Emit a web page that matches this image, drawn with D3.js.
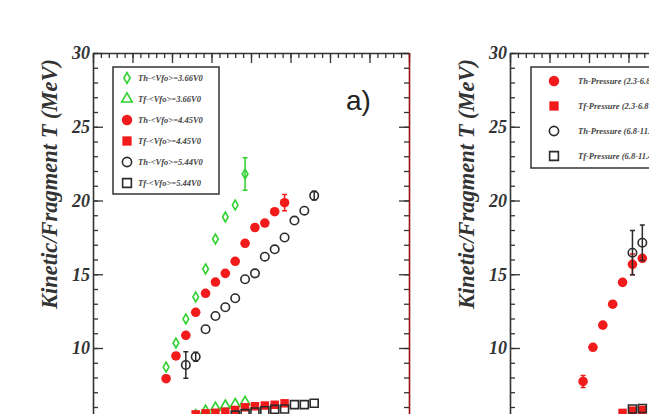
<!DOCTYPE html>
<html>
<head>
<meta charset="utf-8">
<script src="https://cdn.jsdelivr.net/npm/d3@7"></script>
<style>
    body { margin: 0; background: #fff; }
    svg { display: block; }
</style>
</head>
<body>
<div id="chart"></div>
<script>
// points are [x, T (MeV), error]
// panel a) : <Vfo> scans
const thV366 = [[1.85, 8.71], [2.1, 10.34], [2.35, 11.97], [2.6, 13.46], [2.85, 15.36], [3.1, 17.39], [3.35, 18.88], [3.6, 19.69], [3.85, 21.8, 1.1]];
const tfV366 = [[2.6, 5.45], [2.85, 5.75], [3.1, 5.95], [3.35, 6.1], [3.6, 6.2], [3.85, 6.35]];
const thV445 = [[1.85, 7.92], [2.1, 9.46], [2.35, 10.86], [2.6, 12.42], [2.85, 13.71], [3.1, 14.47], [3.35, 15.06], [3.6, 15.88], [3.85, 17.1], [4.1, 18.17], [4.35, 18.47], [4.6, 19.24], [4.85, 19.85, 0.55]];
const tfV445 = [[2.6, 5.5], [2.85, 5.57], [3.1, 5.61], [3.35, 5.68], [3.6, 5.8], [3.85, 5.98], [4.1, 6.05], [4.35, 6.1], [4.6, 6.15], [4.85, 6.25]];
const thV544 = [[2.35, 8.85, 0.9], [2.6, 9.41, 0.3], [2.85, 11.27], [3.1, 12.17], [3.35, 12.76], [3.6, 13.37], [3.85, 14.66], [4.1, 15.06], [4.35, 16.19], [4.6, 16.69], [4.85, 17.49], [5.1, 18.64], [5.35, 19.31], [5.6, 20.33, 0.3]];
const tfV544 = [[3.6, 5.45], [3.85, 5.55], [4.1, 5.66], [4.35, 5.75], [4.6, 5.84], [4.85, 5.86], [5.1, 6.16], [5.35, 6.16], [5.6, 6.25]];

// panel b) : pressure ranges
const thP1 = [[1.85, 7.73, 0.4], [2.1, 10.05], [2.35, 11.55], [2.6, 12.97], [2.85, 14.45], [3.1, 15.67, 0.7], [3.35, 16.08]];
const tfP1 = [[2.85, 5.6], [3.1, 5.75], [3.35, 5.8]];
const thP2 = [[3.1, 16.46, 1.5], [3.35, 17.14, 1.2]];
const tfP2 = [[3.1, 5.86], [3.35, 5.9]];

const labelsA = ['Th-<Vfo>=3.66V0', 'Tf-<Vfo>=3.66V0', 'Th-<Vfo>=4.45V0', 'Tf-<Vfo>=4.45V0', 'Th-<Vfo>=5.44V0', 'Tf-<Vfo>=5.44V0'];
const labelsB = ['Th-Pressure (2.3-6.8 MeV/u)', 'Tf-Pressure (2.3-6.8 MeV/u)', 'Th-Pressure (6.8-11.4 MeV/u)', 'Tf-Pressure (6.8-11.4 MeV/u)'];

const yTicks = [0, 5, 10, 15, 20, 25, 30];
const yTickLabels = [10, 15, 20, 25, 30]; // lower ones fall below the visible frame
const yLabel = 'Kinetic/Fragment T (MeV)';

const GREEN = '#2ed12e', RED = '#f21b1b', BLACK = '#2b2b2b';
const SERIF = '"Liberation Serif", "Times New Roman", serif';

const styleA = [
    { data: thV366, shape: d3.symbolDiamond, size: 28, color: GREEN, filled: false },
    { data: tfV366, shape: d3.symbolTriangle, size: 40, color: GREEN, filled: false },
    { data: thV445, shape: d3.symbolCircle, size: 72, color: RED, filled: true },
    { data: tfV445, shape: d3.symbolSquare, size: 72, color: RED, filled: true },
    { data: thV544, shape: d3.symbolCircle, size: 56, color: BLACK, filled: false },
    { data: tfV544, shape: d3.symbolSquare, size: 64, color: BLACK, filled: false }
];
const styleB = [
    { data: thP1, shape: d3.symbolCircle, size: 72, color: RED, filled: true },
    { data: tfP1, shape: d3.symbolSquare, size: 72, color: RED, filled: true },
    { data: thP2, shape: d3.symbolCircle, size: 56, color: BLACK, filled: false },
    { data: tfP2, shape: d3.symbolSquare, size: 64, color: BLACK, filled: false }
];

const svg = d3.select('#chart').append('svg')
    .attr('width', 649)
    .attr('height', 414);

function marker(g, s, size) {
    return g.append('path')
        .attr('d', d3.symbol(s.shape, size)())
        .attr('fill', s.filled ? s.color : 'none')
        .attr('stroke', s.color)
        .attr('stroke-width', s.filled ? 0 : 1.6);
}

function drawPanel(left, series, labels, legend) {
    const x = d3.scaleLinear().domain([0, 8]).range([left, left + 316]);
    const y = d3.scaleLinear().domain([0, 30]).range([495.5, 53]);
    const g = svg.append('g');

    // y axis, ticks inside
    g.append('g').attr('transform', `translate(${left},0)`)
        .call(d3.axisLeft(y).tickValues(yTicks).tickSizeInner(-10).tickSizeOuter(0).tickPadding(3)
            .tickFormat(d => yTickLabels.includes(d) ? d : ''))
        .call(a => a.selectAll('text').attr('font-family', SERIF).attr('font-size', 18)
            .attr('font-weight', 'bold').attr('font-style', 'italic').attr('fill', '#333'));
    g.append('g').attr('transform', `translate(${left},0)`)
        .call(d3.axisLeft(y).tickValues(d3.range(0, 31, 1)).tickSize(-5).tickFormat(''))
        .call(a => a.select('.domain').remove());

    // top frame
    g.append('g').attr('transform', 'translate(0,53)')
        .call(d3.axisTop(x).tickValues(d3.range(0, 9, 1)).tickSizeInner(-10).tickSizeOuter(0).tickFormat(''));
    g.append('g').attr('transform', 'translate(0,53)')
        .call(d3.axisTop(x).tickValues(d3.range(0, 8.01, 0.2)).tickSize(-5).tickFormat(''))
        .call(a => a.select('.domain').remove());

    // right frame
    const r = g.append('g').attr('transform', `translate(${left + 316},0)`);
    r.call(d3.axisRight(y).tickValues(yTicks).tickSizeInner(-10).tickSizeOuter(0).tickFormat(''));
    r.append('g').call(d3.axisRight(y).tickValues(d3.range(0, 31, 1)).tickSize(-5).tickFormat(''))
        .call(a => a.select('.domain').remove());

    g.selectAll('.domain').attr('stroke', '#333').attr('stroke-width', 1.6);
    r.select('.domain').attr('stroke', '#9a1010');
    g.selectAll('.tick line').attr('stroke', '#333').attr('stroke-width', 1.3);
    g.selectAll('.tick text').filter(function () { return this.textContent === ''; }).remove();

    // axis title
    g.append('text')
        .attr('transform', `translate(${left - 36},184) rotate(-90)`)
        .attr('text-anchor', 'middle')
        .attr('font-family', SERIF).attr('font-size', 22.5)
        .attr('font-weight', 'bold').attr('font-style', 'italic')
        .attr('fill', '#333')
        .text(yLabel);

    // data
    series.forEach(s => {
        const sg = g.append('g');
        s.data.filter(d => d[2]).forEach(d => {
            const y0 = y(d[1] - d[2]), y1 = y(d[1] + d[2]), cx = x(d[0]);
            sg.append('path')
                .attr('d', `M${cx},${y0}V${y1}M${cx - 2.5},${y0}H${cx + 2.5}M${cx - 2.5},${y1}H${cx + 2.5}`)
                .attr('stroke', s.color).attr('stroke-width', 1.5).attr('fill', 'none');
        });
        sg.selectAll('g.pt').data(s.data).enter().append('g')
            .attr('transform', d => `translate(${x(d[0])},${y(d[1])})`)
            .each(function () { marker(d3.select(this), s, s.size); });
    });

    // legend
    const lg = g.append('g');
    lg.append('rect')
        .attr('x', legend.x).attr('y', legend.y)
        .attr('width', legend.w).attr('height', legend.h)
        .attr('fill', '#fff').attr('stroke', '#333').attr('stroke-width', 1.5);
    series.forEach((s, i) => {
        const ry = legend.y + legend.first + i * legend.step;
        const row = lg.append('g').attr('transform', `translate(${legend.x + legend.sym},${ry})`);
        marker(row, s, s.size * 1.2);
        row.append('text')
            .attr('x', legend.txt).attr('y', 3)
            .attr('font-family', SERIF).attr('font-size', legend.fs)
            .attr('font-weight', 'bold').attr('font-style', 'italic')
            .attr('fill', '#444')
            .text(labels[i]);
    });
    return g;
}

drawPanel(93, styleA, labelsA, { x: 113, y: 67, w: 106, h: 127, first: 11, step: 21, sym: 14, txt: 11, fs: 8.5 });
drawPanel(510, styleB, labelsB, { x: 531, y: 67, w: 190, h: 101, first: 14, step: 25, sym: 23, txt: 24, fs: 8.5 });

svg.append('text')
    .attr('x', 346).attr('y', 110)
    .attr('font-family', '"Liberation Sans", Arial, sans-serif')
    .attr('font-size', 28)
    .attr('fill', '#222')
    .text('a)');
</script>
</body>
</html>
